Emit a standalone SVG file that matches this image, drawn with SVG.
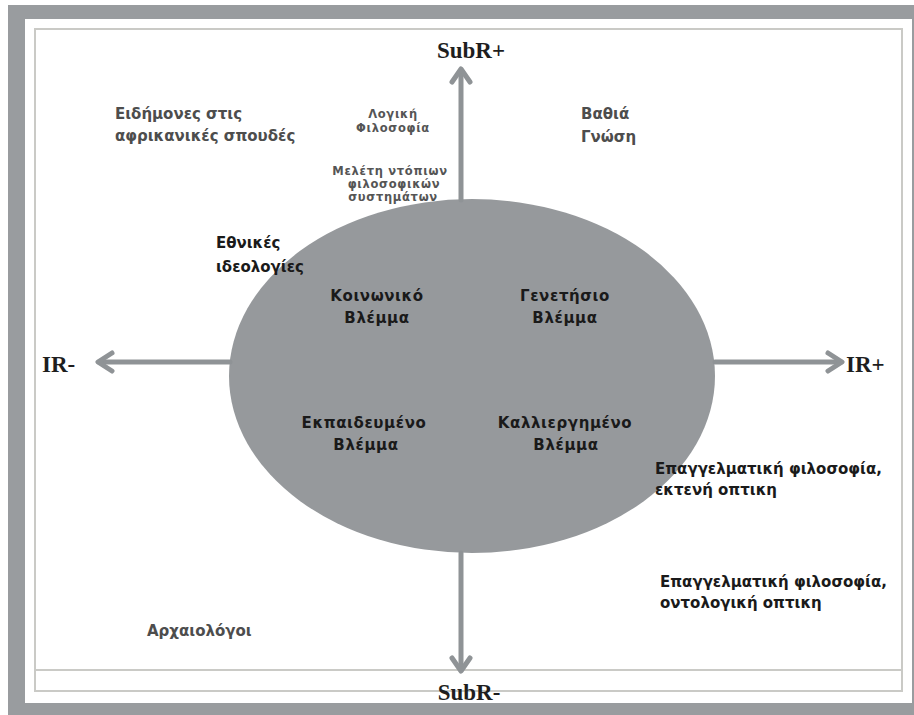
<svg xmlns="http://www.w3.org/2000/svg" width="914" height="715" viewBox="0 0 914 715">
<style>
.ax{stroke:#8f9396;stroke-width:5;fill:none;stroke-linecap:round;stroke-linejoin:round}
.axl{font-family:"Liberation Serif",serif;font-weight:bold;font-size:23px;fill:#1e1e1e}
.lt{font-family:"DejaVu Sans",Verdana,sans-serif;font-weight:bold;font-size:15px;fill:#4d4d4d}
.dk{font-family:"DejaVu Sans",Verdana,sans-serif;font-weight:bold;font-size:15px;fill:#1a1a1a}
.sm{font-family:"DejaVu Sans",Verdana,sans-serif;font-weight:bold;font-size:11.5px;fill:#555;letter-spacing:0.7px}
.in{font-family:"DejaVu Sans",Verdana,sans-serif;font-weight:bold;font-size:15px;fill:#1a1a1a;letter-spacing:0.6px}
</style>
<rect x="0" y="0" width="914" height="715" fill="#ffffff"/>
<rect x="8" y="5" width="906" height="710" fill="#999c9f"/>
<rect x="25" y="19" width="887" height="684" fill="#ffffff"/>
<rect x="35" y="29" width="867" height="662" fill="none" stroke="#cacac6" stroke-width="2"/>
<line x1="35" y1="670" x2="902" y2="670" stroke="#cacac6" stroke-width="2"/>

<g id="ellipse-node">
<ellipse cx="472" cy="376" rx="243" ry="177" fill="#96999c"/>
</g>

<g id="connectors">
<line class="ax" x1="461" y1="200" x2="461" y2="70"/>
<polyline class="ax" points="452,82 461,69 470,82"/>
<line class="ax" x1="461" y1="553" x2="461" y2="670"/>
<polyline class="ax" points="452,658 461,671 470,658"/>
<line class="ax" x1="230" y1="362" x2="99" y2="362"/>
<polyline class="ax" points="112,353 98,362 112,371"/>
<line class="ax" x1="715" y1="362" x2="841" y2="362"/>
<polyline class="ax" points="828,353 842,362 828,371"/>
</g>

<g id="subr-plus"><text class="axl" x="471" y="58" text-anchor="middle">SubR+</text></g>
<g id="subr-minus"><text class="axl" x="469" y="700" text-anchor="middle">SubR-</text></g>
<g id="ir-minus"><text class="axl" x="42" y="372">IR-</text></g>
<g id="ir-plus"><text class="axl" x="846" y="372">IR+</text></g>

<g id="eidimones">
<text class="lt" x="115" y="119">Ειδήμονες στις</text>
<text class="lt" x="115" y="141">αφρικανικές σπουδές</text>
</g>
<g id="logiki">
<text class="sm" x="393" y="118" text-anchor="middle">Λογική</text>
<text class="sm" x="393" y="132" text-anchor="middle">Φιλοσοφία</text>
</g>
<g id="meleti">
<text class="sm" x="390" y="175" text-anchor="middle">Μελέτη ντόπιων</text>
<text class="sm" x="394" y="188" text-anchor="middle">φιλοσοφικών</text>
<text class="sm" x="393" y="201" text-anchor="middle">συστημάτων</text>
</g>
<g id="vathia">
<text class="lt" x="581" y="119">Βαθιά</text>
<text class="lt" x="581" y="142">Γνώση</text>
</g>
<g id="ethnikes">
<text class="dk" x="216" y="248">Εθνικές</text>
<text class="dk" x="216" y="272">ιδεολογίες</text>
</g>
<g id="koinoniko">
<text class="in" x="377" y="301" text-anchor="middle">Κοινωνικό</text>
<text class="in" x="377" y="323" text-anchor="middle">Βλέμμα</text>
</g>
<g id="genetisio">
<text class="in" x="565" y="301" text-anchor="middle">Γενετήσιο</text>
<text class="in" x="565" y="323" text-anchor="middle">Βλέμμα</text>
</g>
<g id="ekpaideumeno">
<text class="in" x="364" y="428" text-anchor="middle">Εκπαιδευμένο</text>
<text class="in" x="366" y="450" text-anchor="middle">Βλέμμα</text>
</g>
<g id="kalliergimeno">
<text class="in" x="565" y="428" text-anchor="middle">Καλλιεργημένο</text>
<text class="in" x="566" y="450" text-anchor="middle">Βλέμμα</text>
</g>
<g id="epaggelmatiki-ektenis">
<text class="dk" x="655" y="474">Επαγγελματική φιλοσοφία,</text>
<text class="dk" x="655" y="495">εκτενή οπτικη</text>
</g>
<g id="epaggelmatiki-ontologiki">
<text class="dk" x="660" y="587">Επαγγελματική φιλοσοφία,</text>
<text class="dk" x="660" y="608">οντολογική οπτικη</text>
</g>
<g id="archaiologoi">
<text class="lt" x="147" y="636">Αρχαιολόγοι</text>
</g>
</svg>
